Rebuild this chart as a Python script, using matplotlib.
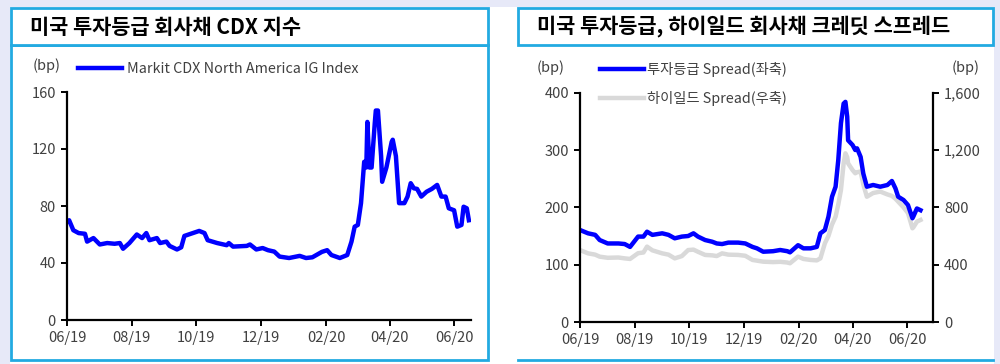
import pandas as pd
import matplotlib.pyplot as plt
import matplotlib.dates as mdates
from matplotlib.patches import Rectangle
from matplotlib.ticker import FuncFormatter, MultipleLocator

plt.rcParams['font.family'] = ['Noto Sans CJK KR', 'DejaVu Sans']

# left chart: Markit CDX NA IG (bp)
cdx_dates = [
    "2019-06-01", "2019-06-03", "2019-06-07", "2019-06-12", "2019-06-18", "2019-06-20",
    "2019-06-26", "2019-07-02", "2019-07-09", "2019-07-16", "2019-07-21", "2019-07-24",
    "2019-07-30", "2019-08-06", "2019-08-11", "2019-08-15", "2019-08-18", "2019-08-25",
    "2019-08-28", "2019-09-03", "2019-09-06", "2019-09-13", "2019-09-17", "2019-09-20",
    "2019-09-28", "2019-10-04", "2019-10-09", "2019-10-12", "2019-10-21", "2019-10-30",
    "2019-11-01", "2019-11-05", "2019-11-18", "2019-11-21", "2019-11-27", "2019-12-03",
    "2019-12-08", "2019-12-14", "2019-12-19", "2019-12-28", "2020-01-07", "2020-01-13",
    "2020-01-19", "2020-01-28", "2020-02-02", "2020-02-06", "2020-02-14", "2020-02-21",
    "2020-02-25", "2020-02-28", "2020-03-02", "2020-03-05", "2020-03-08", "2020-03-10",
    "2020-03-11", "2020-03-13", "2020-03-15", "2020-03-18", "2020-03-19", "2020-03-21",
    "2020-03-24", "2020-03-25", "2020-03-29", "2020-04-03", "2020-04-04", "2020-04-07",
    "2020-04-10", "2020-04-15", "2020-04-18", "2020-04-21", "2020-04-24", "2020-04-27",
    "2020-05-01", "2020-05-06", "2020-05-11", "2020-05-16", "2020-05-20", "2020-05-24",
    "2020-05-27", "2020-06-01", "2020-06-04", "2020-06-08", "2020-06-10", "2020-06-13",
    "2020-06-15",
]
cdx_ig = [
    69, 70, 63, 61, 60.5, 55,
    57.5, 53, 54, 53.5, 54, 50,
    54, 60, 57.5, 61, 56, 57.5,
    54, 55, 52, 49.5, 51, 59,
    61, 62.5, 61, 56, 54, 52.5,
    54, 51.5, 52, 53, 49.5, 50.5,
    49, 48, 44.5, 43.5, 45, 43.5,
    44, 47.8, 49, 45.6, 43.5, 45.6,
    55, 65.5, 66.7, 82, 111, 107,
    139, 107, 107, 138, 147, 147,
    115, 97, 107, 125, 126.5, 115,
    82, 82, 86.6, 96, 92.4, 92,
    86.6, 90, 92, 94.8, 86.6, 86.6,
    78.4, 77, 65.5, 66.7, 79.5, 78.4,
    70,
]

# right chart: IG spread (left axis) and HY spread (right axis), bp
spr_dates = [
    "2019-06-01", "2019-06-10", "2019-06-18", "2019-06-23", "2019-07-02", "2019-07-14",
    "2019-07-21", "2019-07-27", "2019-08-05", "2019-08-11", "2019-08-15", "2019-08-21",
    "2019-09-01", "2019-09-08", "2019-09-15", "2019-09-23", "2019-09-30", "2019-10-06",
    "2019-10-11", "2019-10-19", "2019-10-27", "2019-11-01", "2019-11-07", "2019-11-14",
    "2019-11-25", "2019-12-03", "2019-12-11", "2019-12-16", "2019-12-23", "2020-01-03",
    "2020-01-11", "2020-01-19", "2020-01-22", "2020-01-31", "2020-02-06", "2020-02-14",
    "2020-02-21", "2020-02-25", "2020-03-01", "2020-03-05", "2020-03-09", "2020-03-13",
    "2020-03-16", "2020-03-19", "2020-03-22", "2020-03-24", "2020-03-26", "2020-03-27",
    "2020-04-01", "2020-04-04", "2020-04-06", "2020-04-10", "2020-04-13", "2020-04-17",
    "2020-04-24", "2020-05-02", "2020-05-10", "2020-05-15", "2020-05-19", "2020-05-22",
    "2020-05-28", "2020-06-02", "2020-06-07", "2020-06-08", "2020-06-12", "2020-06-16",
]
ig_spread = [
    160.5, 154.7, 152, 143, 137, 137,
    136, 131, 149, 149, 157.5, 152,
    154.7, 152, 146, 149, 150, 154.7,
    149, 143, 140, 137, 136, 138.5,
    138.5, 137, 131, 128.5, 122.6, 123.5,
    125.6, 123.5, 121.5, 134, 128.5, 128.5,
    131, 154.7, 160.5, 183.7, 218.6, 236,
    282.6, 347, 381, 384, 358, 317,
    308.7, 300, 303, 288, 259, 236,
    239, 236, 239, 246, 233, 218.6,
    212.8, 204, 181, 184, 198, 195,
]
hy_spread = [
    502, 479, 470, 456, 448, 450,
    444, 440, 480, 485, 526, 500,
    479, 470, 444, 460, 502, 505,
    490, 468, 465, 460, 479, 470,
    468, 462, 433, 428, 421, 418,
    420, 415, 410, 456, 440, 433,
    430, 444, 549, 600, 680, 735,
    820, 921, 1107, 1177, 1150, 1107,
    1060, 1038, 1045, 1050, 960, 874,
    900, 910, 890, 880, 860, 840,
    800, 760, 654, 660, 700, 712,
]

x_ticks = ["2019-06-01", "2019-08-01", "2019-10-01", "2019-12-01",
           "2020-02-01", "2020-04-01", "2020-06-01"]

BLUE = "#0000FF"
GRAY = "#D9D9D9"
CYAN = "#22AAE1"
BG = "#E7E9F8"
TXT = "#404040"
W, H = 1000, 364


def px(x0, y0, x1, y1):
    # pixel box (top-left origin) -> figure fraction rect
    return [x0 / W, 1 - y1 / H, (x1 - x0) / W, (y1 - y0) / H]


fig = plt.figure(figsize=(10, 3.64), dpi=100)
fig.patch.set_facecolor("white")

# background frame: lavender on the outside, white in the middle
for r in [(0, 0, W, 7), (0, 0, 10, H), (994, 0, W, H)]:
    fig.add_artist(Rectangle((r[0] / W, 1 - r[3] / H), (r[2] - r[0]) / W, (r[3] - r[1]) / H,
                             transform=fig.transFigure, facecolor=BG, edgecolor="none", zorder=0))


def box(x0, y0, x1, y1, **kw):
    rect = px(x0, y0, x1, y1)
    fig.add_artist(Rectangle((rect[0], rect[1]), rect[2], rect[3], transform=fig.transFigure,
                             fill=False, edgecolor=CYAN, linewidth=2, **kw))


def hline(x0, x1, y):
    fig.add_artist(plt.Line2D([x0 / W, x1 / W], [1 - y / H, 1 - y / H], transform=fig.transFigure,
                              color=CYAN, linewidth=2))


# left panel frame + title box
box(11, 45, 488, 360)
fig.add_artist(Rectangle((11 / W, 1 - 45 / H), 477 / W, 37 / H, transform=fig.transFigure,
                         facecolor="white", edgecolor=CYAN, linewidth=2))
# right panel title box + bottom line
fig.add_artist(Rectangle((518 / W, 1 - 45 / H), 475 / W, 37 / H, transform=fig.transFigure,
                         facecolor="white", edgecolor=CYAN, linewidth=2))
hline(518, 993, 360)

fig.text(30 / W, 1 - 27 / H, "미국 투자등급 회사채 CDX 지수", fontsize=15, fontweight="bold",
         va="center", ha="left", color="black")
fig.text(537 / W, 1 - 27 / H, "미국 투자등급, 하이일드 회사채 크레딧 스프레드", fontsize=15,
         fontweight="bold", va="center", ha="left", color="black")


def style_axis(ax, sides):
    for s in ["top", "right", "left", "bottom"]:
        ax.spines[s].set_visible(s in sides)
        ax.spines[s].set_linewidth(1.6)
        ax.spines[s].set_color("black")
    ax.tick_params(direction="out", length=4, width=1.4, colors="black",
                   labelsize=10.5, labelcolor=TXT, pad=4)
    ax.set_facecolor("none")


tick_dates = pd.to_datetime(x_ticks)
date_fmt = mdates.DateFormatter("%m/%y")

# ---- left chart
ax1 = fig.add_axes(px(67, 92, 471, 320))
ln, = ax1.plot(pd.to_datetime(cdx_dates), cdx_ig, color=BLUE, lw=3.2, solid_joinstyle="round",
               label="Markit CDX North America IG Index")
ax1.set_ylim(0, 160)
ax1.yaxis.set_major_locator(MultipleLocator(40))
ax1.set_xlim(pd.Timestamp("2019-06-01"), pd.Timestamp("2020-06-17"))
ax1.set_xticks(tick_dates)
ax1.xaxis.set_major_formatter(date_fmt)
style_axis(ax1, ["left", "bottom"])
fig.text(33 / W, 1 - 66 / H, "(bp)", fontsize=10.5, color=TXT, va="center", ha="left")
fig.legend(handles=[ln], loc="center left", bbox_to_anchor=(78 / W, 1 - 69 / H),
           frameon=False, fontsize=10.3, handlelength=3.1, handletextpad=0.3,
           borderpad=0, borderaxespad=0, labelcolor=TXT)

# ---- right chart
ax2 = fig.add_axes(px(580, 92.7, 933, 322))
ax3 = ax2.twinx()
hy, = ax3.plot(pd.to_datetime(spr_dates), hy_spread, color=GRAY, lw=3.2,
               label="하이일드 Spread(우축)")
ig, = ax2.plot(pd.to_datetime(spr_dates), ig_spread, color=BLUE, lw=3.2,
               label="투자등급 Spread(좌축)")
ax2.set_zorder(ax3.get_zorder() + 1)
ax2.set_ylim(0, 400)
ax2.yaxis.set_major_locator(MultipleLocator(100))
ax3.set_ylim(0, 1600)
ax3.yaxis.set_major_locator(MultipleLocator(400))
ax3.yaxis.set_major_formatter(FuncFormatter(lambda v, p: f"{int(v):,}"))
ax2.set_xlim(pd.Timestamp("2019-06-01"), pd.Timestamp("2020-06-30"))
ax2.set_xticks(tick_dates)
ax2.xaxis.set_major_formatter(date_fmt)
style_axis(ax2, ["left", "bottom"])
style_axis(ax3, ["right"])
fig.text(537 / W, 1 - 68 / H, "(bp)", fontsize=10.5, color=TXT, va="center", ha="left")
fig.text(952 / W, 1 - 68 / H, "(bp)", fontsize=10.5, color=TXT, va="center", ha="left")
fig.legend(handles=[ig, hy], loc="upper left", bbox_to_anchor=(600 / W, 1 - 62 / H),
           frameon=False, fontsize=10.3, handlelength=3.1, handletextpad=0.2,
           labelspacing=1.0, borderpad=0, borderaxespad=0, labelcolor=TXT)

fig.savefig("out.png", dpi=100)
